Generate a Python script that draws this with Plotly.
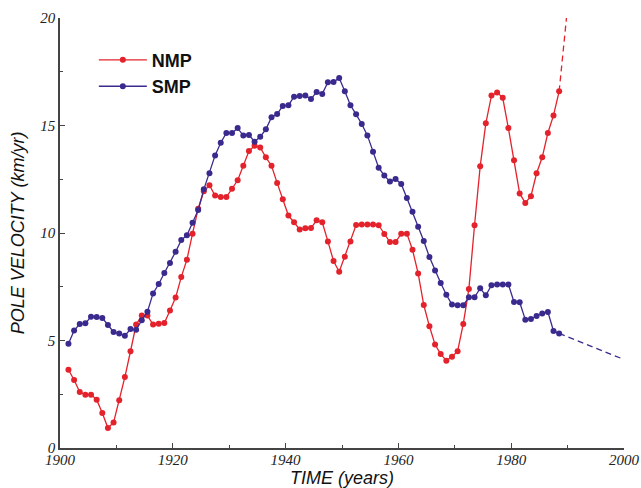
import plotly.graph_objects as go

years = [1901.5 + i for i in range(88)]

nmp = [3.64, 3.16, 2.60, 2.48, 2.48, 2.25, 1.63, 0.93, 1.19, 2.22,
       3.30, 4.50, 5.74, 6.16, 6.16, 5.74, 5.78, 5.81, 6.40, 7.00,
       7.95, 8.76, 9.97, 11.13, 11.94, 12.22, 11.74, 11.67, 11.67, 12.06,
       12.45, 13.13, 13.81, 14.06, 13.98, 13.52, 13.13, 12.33, 11.57, 10.81,
       10.50, 10.16, 10.22, 10.23, 10.59, 10.50, 9.61, 8.70, 8.20, 8.90,
       9.61, 10.37, 10.39, 10.40, 10.39, 10.36, 9.95, 9.58, 9.58, 9.97,
       9.97, 9.22, 8.12, 6.65, 5.66, 4.81, 4.37, 4.06, 4.25, 4.50,
       5.77, 7.40, 10.36, 13.10, 15.10, 16.39, 16.54, 16.29, 14.88, 13.38,
       11.84, 11.40, 11.71, 12.78, 13.52, 14.65, 15.47, 16.59]

smp = [4.85, 5.46, 5.77, 5.80, 6.11, 6.09, 6.05, 5.72, 5.40, 5.32,
       5.22, 5.53, 5.50, 5.94, 6.34, 7.19, 7.63, 8.14, 8.60, 9.13,
       9.67, 9.89, 10.48, 11.07, 12.03, 12.78, 13.61, 14.20, 14.65, 14.65,
       14.88, 14.53, 14.56, 14.25, 14.48, 14.82, 15.38, 15.53, 15.91, 15.94,
       16.34, 16.37, 16.40, 16.23, 16.56, 16.47, 17.01, 17.02, 17.21, 16.59,
       15.94, 15.52, 15.07, 14.54, 13.78, 13.04, 12.67, 12.40, 12.51, 12.28,
       11.63, 10.99, 10.29, 9.63, 8.88, 8.26, 7.67, 7.13, 6.67, 6.64,
       6.64, 7.01, 7.01, 7.43, 7.10, 7.57, 7.61, 7.61, 7.61, 6.79,
       6.78, 5.97, 6.00, 6.14, 6.26, 6.33, 5.44, 5.33]

# dashed extrapolations (start at last measured point)
nmp_ext_x = [1988.5, 1989.8]
nmp_ext_y = [16.59, 20.0]
smp_ext_x = [1988.5, 1999.6]
smp_ext_y = [5.33, 4.16]

x_ticks = [1900, 1920, 1940, 1960, 1980, 2000]
y_ticks = [0, 5, 10, 15, 20]

RED = "#e4222c"
BLUE = "#3b2a8e"

fig = go.Figure()
fig.add_trace(go.Scatter(x=years, y=nmp, mode="lines+markers", name="NMP",
                         line=dict(color=RED, width=1.3),
                         marker=dict(color=RED, size=6)))
fig.add_trace(go.Scatter(x=years, y=smp, mode="lines+markers", name="SMP",
                         line=dict(color=BLUE, width=1.3),
                         marker=dict(color=BLUE, size=6)))
fig.add_trace(go.Scatter(x=nmp_ext_x, y=nmp_ext_y, mode="lines", showlegend=False,
                         line=dict(color=RED, width=1.3, dash="6px,4px")))
fig.add_trace(go.Scatter(x=smp_ext_x, y=smp_ext_y, mode="lines", showlegend=False,
                         line=dict(color=BLUE, width=1.3, dash="6px,4px")))

axis_common = dict(showgrid=False, zeroline=False, showline=True,
                   linecolor="#444", linewidth=1.5, ticks="inside",
                   ticklen=5, tickwidth=1.2, tickcolor="#444",
                   automargin=False,
                   tickfont=dict(family="Liberation Serif", size=15,
                                 color="#222", style="italic"),
                   mirror=False)

fig.update_xaxes(range=[1900, 2000], tickvals=x_ticks, ticklabelstandoff=-3,
                 minor=dict(ticks="inside", dtick=10, ticklen=3,
                            tickcolor="#444", tickwidth=1.2),
                 **axis_common)
fig.update_yaxes(range=[0, 20], tickvals=y_ticks,
                 minor=dict(ticks="inside", dtick=2.5, ticklen=3,
                            tickcolor="#444", tickwidth=1.2),
                 **axis_common)

title_font = dict(family="Liberation Sans", size=18, color="#111", style="italic")
fig.add_annotation(text="POLE VELOCITY (km/yr)", xref="paper", yref="paper",
                   x=-0.074, y=0.5, xanchor="center", yanchor="middle",
                   textangle=-90, showarrow=False, font=title_font)
fig.add_annotation(text="TIME (years)", xref="paper", yref="paper",
                   x=0.5, y=-0.095, xanchor="center", yanchor="bottom",
                   showarrow=False, borderpad=0, font=title_font)

fig.update_layout(
    width=641, height=488,
    margin=dict(l=60, r=17, t=18, b=40),
    paper_bgcolor="white", plot_bgcolor="white",
    legend=dict(x=0.06, y=0.945, xanchor="left", yanchor="top",
                bgcolor="rgba(0,0,0,0)", itemwidth=48, tracegroupgap=0,
                font=dict(family="Liberation Sans", size=18, color="#111",
                          weight="bold")),
    showlegend=True,
)

fig.write_html("out.html")
